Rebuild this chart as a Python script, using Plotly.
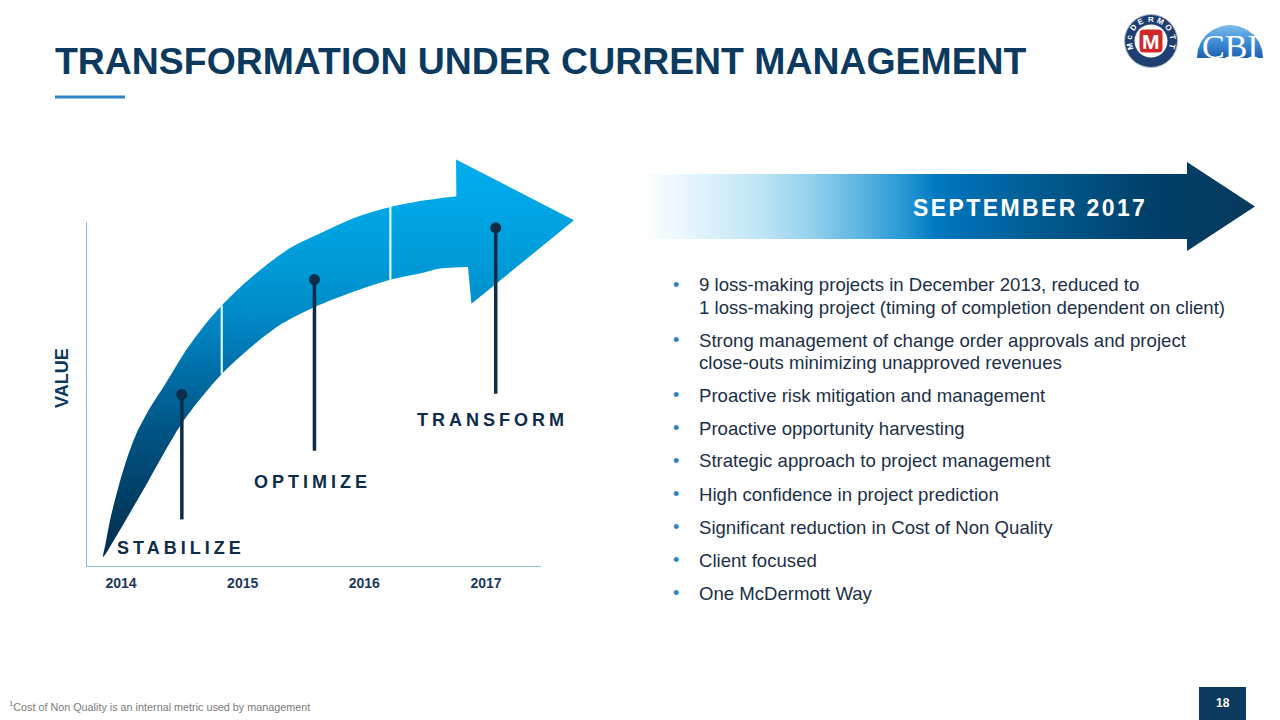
import numpy as np
import plotly.graph_objects as go

# ---------------- data ----------------
TITLE = "TRANSFORMATION UNDER CURRENT MANAGEMENT"
YEARS = [2014, 2015, 2016, 2017]
YEAR_LABELS = ["2014", "2015", "2016", "2017"]
Y_TITLE = "VALUE"

STAGES = ["STABILIZE", "OPTIMIZE", "TRANSFORM"]
STAGE_YEAR = [2014.50, 2015.59, 2017.08]
STAGE_PIN_TOP = [5.00, 8.33, 9.83]
STAGE_PIN_BOTTOM = [1.38, 3.37, 5.02]
STAGE_LABEL_YEAR = [2014.49, 2015.57, 2017.05]
STAGE_LABEL_VALUE = [0.56, 2.47, 4.26]

# curved body of the growth arrow, outline in (year, value) units
BODY_YEAR = [2013.853, 2013.872, 2013.915, 2013.985, 2014.050, 2014.125, 2014.240, 2014.364,
             2014.533, 2014.680, 2014.828, 2015.011, 2015.208, 2015.404, 2015.629,
             2015.939, 2016.214, 2016.501, 2016.782, 2016.900,
             2016.900, 2016.852, 2016.613, 2016.473, 2016.214, 2015.939, 2015.587, 2015.320,
             2015.067, 2014.828, 2014.617, 2014.480, 2014.364, 2014.210, 2014.083,
             2013.971, 2013.853]
BODY_VALUE = [0.290, 0.658, 1.433, 2.401, 3.150, 3.853, 4.620, 5.305,
              6.273, 6.980, 7.580, 8.209, 8.790, 9.274, 9.662,
              10.146, 10.436, 10.630, 10.756, 10.770,
              8.700, 8.694, 8.645, 8.519, 8.326, 8.016, 7.532, 7.048,
              6.370, 5.596, 4.724, 4.060, 3.369, 2.401, 1.626,
              0.949, 0.290]
# arrow head triangle (year, value)
HEAD_YEAR = [2016.754, 2017.723, 2016.880, 2016.852, 2016.760, 2016.760, 2016.754]
HEAD_VALUE = [11.811, 10.049, 7.629, 8.694, 8.700, 10.760, 11.811]
DIVIDER_YEAR = [2014.828, 2016.214]
DIVIDER_LOW = [5.60, 8.33]
DIVIDER_HIGH = [7.58, 10.44]

BANNER = "SEPTEMBER 2017"
BULLETS = [
    ["9 loss-making projects in December 2013, reduced to",
     "1 loss-making project (timing of completion dependent on client)"],
    ["Strong management of change order approvals and project",
     "close-outs minimizing unapproved revenues"],
    ["Proactive risk mitigation and management"],
    ["Proactive opportunity harvesting"],
    ["Strategic approach to project management"],
    ["High confidence in project prediction"],
    ["Significant reduction in Cost of Non Quality"],
    ["Client focused"],
    ["One McDermott Way"],
]
FOOTNOTE = "<sup>1</sup>Cost of Non Quality is an internal metric used by management"
PAGE_NO = "18"
LOGO_TEXT = "McDERMOTT"
LOGO2_TEXT = "CBI"

# ---------------- styling ----------------
W, H = 1280, 720
FONT = "Liberation Sans, Arial, sans-serif"
NAVY = "#0c3a5e"
DARK = "#0d2c4a"
TEXT = "#1b2f48"
AXIS_COL = "#8dbcd8"

X_RANGE = [2013.7123, 2017.937]
Y_RANGE = [0, 12.087]

ARROW_GRAD = dict(type="vertical", start=0.3, stop=11.8,
                  colorscale=[[0, "#082e4c"], [0.15, "#003f66"], [0.32, "#005585"],
                              [0.45, "#006ba3"], [0.58, "#0085c2"], [0.71, "#0097d5"],
                              [0.84, "#00a3e1"], [1, "#00aeef"]])


def fx(p):
    return p / W


def fy(p):
    return 1 - p / H


fig = go.Figure()

# growth arrow with vertical gradient: smooth body + straight-edged head
fig.add_trace(go.Scatter(
    x=BODY_YEAR, y=BODY_VALUE, mode="lines", fill="toself",
    line=dict(width=0, color="rgba(0,0,0,0)", shape="spline", smoothing=0.8),
    fillgradient=ARROW_GRAD, hoverinfo="skip", showlegend=False, xaxis="x", yaxis="y"))
fig.add_trace(go.Scatter(
    x=HEAD_YEAR, y=HEAD_VALUE, mode="lines", fill="toself",
    line=dict(width=0, color="rgba(0,0,0,0)"),
    fillgradient=ARROW_GRAD, hoverinfo="skip", showlegend=False, xaxis="x", yaxis="y"))

for dx, lo, hi in zip(DIVIDER_YEAR, DIVIDER_LOW, DIVIDER_HIGH):
    fig.add_trace(go.Scatter(x=[dx, dx], y=[lo, hi], mode="lines",
                             line=dict(color="rgba(255,255,255,0.9)", width=2.2),
                             hoverinfo="skip", showlegend=False, xaxis="x", yaxis="y"))

for sx, top, bot in zip(STAGE_YEAR, STAGE_PIN_TOP, STAGE_PIN_BOTTOM):
    fig.add_trace(go.Scatter(x=[sx, sx], y=[bot, top], mode="lines",
                             line=dict(color=DARK, width=3.5),
                             hoverinfo="skip", showlegend=False, xaxis="x", yaxis="y"))
fig.add_trace(go.Scatter(x=STAGE_YEAR, y=STAGE_PIN_TOP, mode="markers",
                         marker=dict(color=DARK, size=11),
                         hoverinfo="skip", showlegend=False, xaxis="x", yaxis="y"))

# September banner arrow (page pixel axes)
fig.add_trace(go.Scatter(
    x=[648, 1187, 1187, 1255, 1187, 1187, 648, 648],
    y=[174, 174, 162, 206.5, 251, 239, 239, 174],
    mode="lines", fill="toself", line=dict(width=0, color="rgba(0,0,0,0)"),
    fillgradient=dict(type="horizontal", start=648, stop=1255,
                      colorscale=[[0, "#fbfdff"], [0.08, "#e2f4fb"], [0.184, "#bfe5f5"],
                                  [0.27, "#93d0ee"], [0.351, "#5bb4e0"], [0.42, "#2a98d4"],
                                  [0.476, "#0078c0"], [0.649, "#005a90"], [0.847, "#003d66"],
                                  [1, "#073a5c"]]),
    hoverinfo="skip", showlegend=False, xaxis="x2", yaxis="y2"))

# CBI dome
th = np.linspace(0, np.pi, 60)
fig.add_trace(go.Scatter(
    x=list(1230 + 33 * np.cos(th)), y=list(58 - 33 * np.sin(th)),
    mode="lines", fill="toself", line=dict(width=0, color="rgba(0,0,0,0)"),
    fillgradient=dict(type="vertical", start=25, stop=58,
                      colorscale=[[0, "#7fbdec"], [0.5, "#3f8fd8"], [1, "#1c5fae"]]),
    hoverinfo="skip", showlegend=False, xaxis="x2", yaxis="y2"))

shapes = []
# chart axes lines
shapes.append(dict(type="line", xref="x", yref="y", x0=X_RANGE[0], x1=2017.452, y0=0, y1=0,
                   line=dict(color=AXIS_COL, width=2)))
shapes.append(dict(type="line", xref="x", yref="y", x0=X_RANGE[0], x1=X_RANGE[0], y0=0, y1=10.0,
                   line=dict(color=AXIS_COL, width=2)))
# title underline
shapes.append(dict(type="line", xref="paper", yref="paper", x0=fx(55), x1=fx(125), y0=fy(97), y1=fy(97),
                   line=dict(color="#2e86c8", width=3)))
# page number box
shapes.append(dict(type="rect", xref="x2", yref="y2", x0=1199, x1=1246, y0=687, y1=720,
                   fillcolor="#0c3a5e", line=dict(width=0)))
# McDermott logo
shapes.append(dict(type="circle", xref="x2", yref="y2", x0=1151 - 26.5, x1=1151 + 26.5, y0=41 - 26.5, y1=41 + 26.5,
                   fillcolor="#1e3f72", line=dict(color="#b8bec8", width=1)))
shapes.append(dict(type="circle", xref="x2", yref="y2", x0=1151 - 16.5, x1=1151 + 16.5, y0=41 - 16.5, y1=41 + 16.5,
                   fillcolor="#ffffff", line=dict(width=0)))
shapes.append(dict(type="path", xref="x2", yref="y2",
                   path="M 1144,29 L 1158,29 Q 1163,29 1163,34 L 1163,48 Q 1163,53 1158,53 "
                        "L 1144,53 Q 1139,53 1139,48 L 1139,34 Q 1139,29 1144,29 Z",
                   fillcolor="#d3282a", line=dict(color="#ffffff", width=1)))

annotations = []
# title
annotations.append(dict(text=f"<b>{TITLE}</b>", x=fx(53), y=fy(61), xref="paper", yref="paper",
                        xanchor="left", yanchor="middle", showarrow=False,
                        font=dict(family=FONT, size=37.4, color=NAVY)))
# value axis title
annotations.append(dict(text=f"<b>{Y_TITLE}</b>", x=fx(62), y=fy(378), xref="paper", yref="paper",
                        xanchor="center", yanchor="middle", textangle=-90, showarrow=False,
                        font=dict(family=FONT, size=18, color=NAVY)))
# stage labels
for name, lx, ly in zip(STAGES, STAGE_LABEL_YEAR, STAGE_LABEL_VALUE):
    annotations.append(dict(text=f"<b><span style='letter-spacing:4px'>{name}</span></b>",
                            x=lx, y=ly, xref="x", yref="y", xanchor="center", yanchor="middle",
                            showarrow=False, font=dict(family=FONT, size=18, color=DARK)))
# banner text
annotations.append(dict(text=f"<b><span style='letter-spacing:2.4px'>{BANNER}</span></b>",
                        x=fx(1030), y=fy(208), xref="paper", yref="paper",
                        xanchor="center", yanchor="middle", showarrow=False,
                        font=dict(family=FONT, size=23, color="#ffffff")))
# bullets
yy = 285
for item in BULLETS:
    annotations.append(dict(text="•", x=fx(676), y=fy(yy), xref="paper", yref="paper",
                            xanchor="center", yanchor="middle", showarrow=False,
                            font=dict(family=FONT, size=18, color="#2a86c8")))
    for k, line in enumerate(item):
        annotations.append(dict(text=line, x=fx(697), y=fy(yy), xref="paper", yref="paper",
                                xanchor="left", yanchor="middle", showarrow=False,
                                font=dict(family=FONT, size=18.6, color=TEXT)))
        if k < len(item) - 1:
            yy += 22
    yy += 33
# footnote
annotations.append(dict(text=FOOTNOTE, x=fx(7), y=fy(706), xref="paper", yref="paper",
                        xanchor="left", yanchor="middle", showarrow=False,
                        font=dict(family=FONT, size=10.8, color="#7a7a7a")))
# page number
annotations.append(dict(text=f"<b>{PAGE_NO}</b>", x=fx(1222.5), y=fy(703), xref="paper", yref="paper",
                        xanchor="center", yanchor="middle", showarrow=False,
                        font=dict(family=FONT, size=12, color="#ffffff")))
# McDermott logo text
annotations.append(dict(text="<b>M</b>", x=fx(1151), y=fy(41.5), xref="paper", yref="paper",
                        xanchor="center", yanchor="middle", showarrow=False,
                        font=dict(family=FONT, size=21, color="#ffffff")))
n = len(LOGO_TEXT)
for i, ch in enumerate(LOGO_TEXT):
    phi = np.deg2rad(195 - i * (210 / (n - 1)))
    cx = 1151 + 21.5 * np.cos(phi)
    cy = 41 - 21.5 * np.sin(phi)
    annotations.append(dict(text=f"<b>{ch}</b>", x=fx(cx), y=fy(cy), xref="paper", yref="paper",
                            xanchor="center", yanchor="middle", showarrow=False,
                            textangle=90 - np.rad2deg(phi),
                            font=dict(family=FONT, size=8, color="#ffffff")))
# CBI text
annotations.append(dict(text=LOGO2_TEXT, x=fx(1230), y=fy(47), xref="paper", yref="paper",
                        xanchor="center", yanchor="middle", showarrow=False,
                        font=dict(family="Liberation Serif, Times New Roman, serif", size=34, color="#ffffff")))

fig.update_layout(
    width=W, height=H,
    margin=dict(l=0, r=0, t=0, b=0),
    paper_bgcolor="#ffffff", plot_bgcolor="rgba(0,0,0,0)",
    showlegend=False,
    xaxis=dict(domain=[fx(86), fx(600)], range=X_RANGE, anchor="y",
               tickvals=YEARS, ticktext=YEAR_LABELS, ticks="", showgrid=False,
               zeroline=False, showline=False, ticklabelstandoff=6,
               tickfont=dict(family=FONT, size=14, color="#1b3a5c", weight="bold"),
               fixedrange=True),
    yaxis=dict(domain=[fy(567), fy(150)], range=Y_RANGE, anchor="x", visible=False,
               fixedrange=True),
    xaxis2=dict(domain=[0, 1], range=[0, W], anchor="y2", visible=False, fixedrange=True),
    yaxis2=dict(domain=[0, 1], range=[H, 0], anchor="x2", visible=False, fixedrange=True),
    shapes=shapes,
    annotations=annotations,
)

fig.write_html("out.html", config={"displayModeBar": False},
               post_script="document.body.style.margin='0';document.body.style.overflow='hidden';")
